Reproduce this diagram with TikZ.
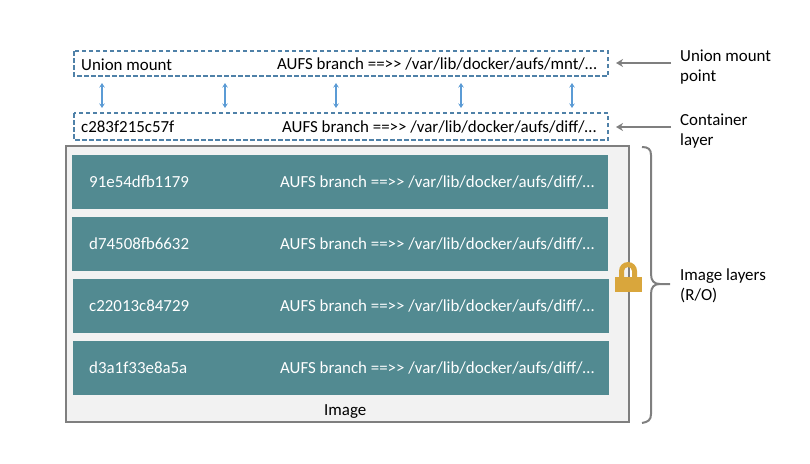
\documentclass[tikz,border=0pt]{standalone}
\usepackage{fontspec}
\setmainfont{Carlito}
\definecolor{layerteal}{HTML}{528A91}
\definecolor{imagefill}{HTML}{F2F2F2}
\definecolor{linegray}{HTML}{7F7F7F}
\definecolor{dashblue}{HTML}{4F81A8}
\definecolor{arrowblue}{HTML}{5B9BD5}
\definecolor{lockgold}{HTML}{D9A63C}
\usetikzlibrary{arrows.meta}
\newcommand{\branchto}[1]{AUFS branch =={>}{>} /var/lib/docker/aufs/#1/…}
\tikzset{
	dashbox/.style={draw=dashblue, line width=1.2pt, dash pattern=on 4.5pt off 2.5pt},
	layerbox/.style={fill=layerteal},
	txt/.style={anchor=west, inner sep=0pt, font=\fontsize{16.9}{20}\selectfont},
	layertxt/.style={txt, text=white},
	sidetxt/.style={txt, align=left},
	updown/.style={draw=arrowblue, line width=1.1pt, {Stealth[length=4.5pt,width=5.5pt]}-{Stealth[length=4.5pt,width=5.5pt]}},
	pointer/.style={draw=linegray, line width=2pt, -{Stealth[length=7pt,width=8pt]}},
}
\begin{document}
\begin{tikzpicture}[x=1pt, y=-1pt]
	\useasboundingbox (0,0) rectangle (810,463);
	%image
	\draw[fill=imagefill, draw=linegray, line width=1.6pt] (66,146) rectangle (629,422);
	\fill[layerbox] (72,155) rectangle (608,209);
	\fill[layerbox] (72,217) rectangle (608,271);
	\fill[layerbox] (73,279) rectangle (609,333);
	\fill[layerbox] (73,341) rectangle (609,395);
	\node[layertxt] (id1) at (89,182)  {91e54dfb1179};
	\node[layertxt] (id2) at (89,244)  {d74508fb6632};
	\node[layertxt] (id3) at (89,306)  {c22013c84729};
	\node[layertxt] (id4) at (89,368)  {d3a1f33e8a5a};
	\node[layertxt] (branch1) at (280,182) {\branchto{diff}};
	\node[layertxt] (branch2) at (280,244) {\branchto{diff}};
	\node[layertxt] (branch3) at (280,306) {\branchto{diff}};
	\node[layertxt] (branch4) at (280,368) {\branchto{diff}};
	\node[txt] (image) at (324,412) {Image};
	%dashed boxes
	\draw[dashbox] (74,51)  rectangle (608,76);
	\draw[dashbox] (74,113) rectangle (608,140);
	\node[txt] (union)     at (81,65)   {Union mount};
	\node[txt] (unionpath) at (277,64)  {\branchto{mnt}};
	\node[txt] (cont)      at (81,127)  {c283f215c57f};
	\node[txt] (contpath)  at (282,127) {\branchto{diff}};
	\foreach \x/\i in {102/1, 225/2, 336/3, 461/4, 572/5} {
		\coordinate (top\i) at (\x,83);
		\coordinate (bot\i) at (\x,108);
		\draw[updown] (top\i) -- (bot\i);
	}
	%right side
	\node[sidetxt] (unionside) at (680,67)  {Union mount\\point};
	\node[sidetxt] (contside)  at (680,131) {Container\\layer};
	\node[sidetxt] (imgside)   at (680,286) {Image layers\\(R/O)};
	\coordinate (unionfrom) at (671,63);
	\coordinate (unionto)   at (616,63);
	\coordinate (contfrom)  at (671,127);
	\coordinate (contto)    at (616,127);
	\draw[pointer] (unionfrom) -- (unionto);
	\draw[pointer] (contfrom) -- (contto);
	%brace
	\draw[draw=linegray, line width=2pt] (642,147) .. controls (648,147) and (651,149) .. (651,155)
		-- (651,274) .. controls (651,281) and (654,284) .. (660,284) -- (670,284)
		(660,284) .. controls (654,284) and (651,287) .. (651,294)
		-- (651,414) .. controls (651,420) and (648,422) .. (642,423);
	%lock
	\fill[lockgold] (615,277) rectangle (642,292);
	\fill[lockgold, even odd rule] (619,278) -- (619,271) arc[start angle=180, end angle=0, x radius=9, y radius=-9] -- (637,278) -- cycle
		(624,278) -- (624,271) arc[start angle=180, end angle=0, x radius=4, y radius=-4] -- (632,278) -- cycle;
\end{tikzpicture}
\end{document}
